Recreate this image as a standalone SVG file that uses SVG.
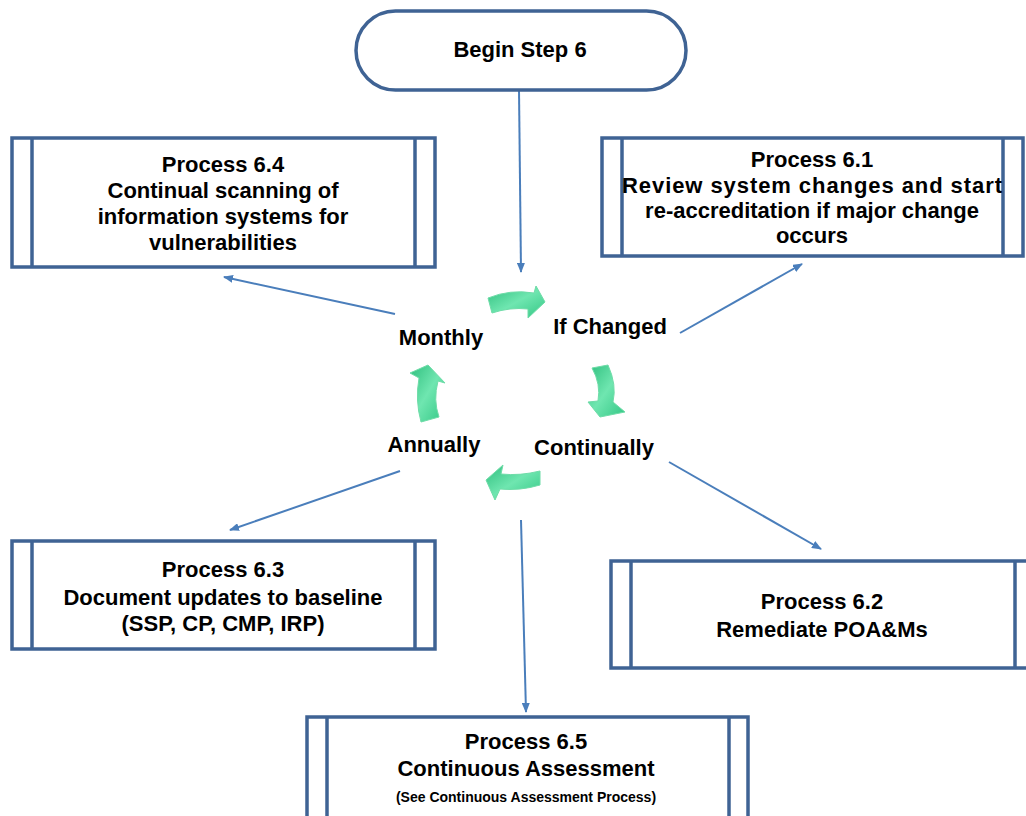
<svg xmlns="http://www.w3.org/2000/svg" width="1026" height="816" viewBox="0 0 1026 816">
<style>
.box{fill:#fff;stroke:#3f6394;stroke-width:3.5}
.bar{fill:none;stroke:#3f6394;stroke-width:3.5}
.t{font-family:"Liberation Sans",Arial,sans-serif;font-weight:bold;font-size:22px;fill:#000;text-anchor:middle}
.s{font-size:14px}
.con{fill:none;stroke:#4a7ebb;stroke-width:2;marker-end:url(#ah)}
.g{fill:url(#gr);stroke:#6fdca8;stroke-width:1}
</style>
<defs>
<marker id="ah" markerWidth="10" markerHeight="8" refX="9" refY="4" orient="auto" markerUnits="userSpaceOnUse">
<path d="M0,0 L10,4 L0,8 Z" fill="#4a7ebb"/>
</marker>
<linearGradient id="gr" x1="0" y1="0" x2="1" y2="1">
<stop offset="0" stop-color="#2fbf7e"/>
<stop offset="0.5" stop-color="#6fe6b0"/>
<stop offset="1" stop-color="#33c785"/>
</linearGradient>
</defs>
<rect width="1026" height="816" fill="#fff"/>
<g id="connectors">
<line class="con" x1="519" y1="90" x2="521" y2="272"/>
<line class="con" x1="395" y1="314" x2="224" y2="277"/>
<line class="con" x1="680" y1="333" x2="802" y2="264"/>
<line class="con" x1="400" y1="471" x2="230" y2="530"/>
<line class="con" x1="669" y1="462" x2="821" y2="549"/>
<line class="con" x1="521" y1="520" x2="526" y2="712"/>
</g>
<g id="cycle-arrows">
<path class="g" d="M488,298 Q510,289 534,293 L536,286 L545,302 L528,318 L528,309 Q510,307 492,313 Z"/>
<path class="g" d="M592,368 L608,365 Q617,385 613,402 L625,412 L600,417 L588,402 L598,401 Q601,384 592,368 Z"/>
<path class="g" d="M540,471 L540,485 Q520,491 500,489 L495,500 L486,480 L503,465 L501,474 Q520,476 540,471 Z"/>
<path class="g" d="M421,422 L439,417 Q433,400 438,381 L445,383 L428,365 L410,373 L419,378 Q415,400 421,422 Z"/>
</g>
<g id="begin">
<rect class="box" x="356" y="11" width="330" height="79" rx="39.5" ry="39.5"/>
<text class="t" x="520" y="57">Begin Step 6</text>
</g>
<g id="p64">
<rect class="box" x="12" y="138" width="423" height="129"/>
<line class="bar" x1="32" y1="138" x2="32" y2="267"/>
<line class="bar" x1="415" y1="138" x2="415" y2="267"/>
<text class="t" x="223" y="172">Process 6.4</text>
<text class="t" x="223" y="198">Continual scanning of</text>
<text class="t" x="223" y="224">information systems for</text>
<text class="t" x="223" y="250">vulnerabilities</text>
</g>
<g id="p61">
<rect class="box" x="602" y="138" width="421" height="118"/>
<line class="bar" x1="622" y1="138" x2="622" y2="256"/>
<line class="bar" x1="1003" y1="138" x2="1003" y2="256"/>
<text class="t" x="812" y="167">Process 6.1</text>
<text class="t" x="812" y="193" textLength="380">Review system changes and start</text>
<text class="t" x="812" y="218">re-accreditation if major change</text>
<text class="t" x="812" y="243">occurs</text>
</g>
<g id="p63">
<rect class="box" x="12" y="541" width="423" height="108"/>
<line class="bar" x1="32" y1="541" x2="32" y2="649"/>
<line class="bar" x1="415" y1="541" x2="415" y2="649"/>
<text class="t" x="223" y="577">Process 6.3</text>
<text class="t" x="223" y="605">Document updates to baseline</text>
<text class="t" x="223" y="631">(SSP, CP, CMP, IRP)</text>
</g>
<g id="p62">
<rect class="box" x="611" y="561" width="425" height="107"/>
<line class="bar" x1="631" y1="561" x2="631" y2="668"/>
<line class="bar" x1="1015" y1="561" x2="1015" y2="668"/>
<text class="t" x="822" y="609">Process 6.2</text>
<text class="t" x="822" y="637">Remediate POA&amp;Ms</text>
</g>
<g id="p65">
<rect class="box" x="307" y="717" width="441" height="110"/>
<line class="bar" x1="327" y1="717" x2="327" y2="816"/>
<line class="bar" x1="729" y1="717" x2="729" y2="816"/>
<text class="t" x="526" y="749">Process 6.5</text>
<text class="t" x="526" y="776">Continuous  Assessment</text>
<text class="t s" x="526" y="802">(See Continuous Assessment Process)</text>
</g>
<g id="labels">
<text class="t" x="441" y="345">Monthly</text>
<text class="t" x="610" y="334">If Changed</text>
<text class="t" x="594" y="455">Continually</text>
<text class="t" x="434" y="452">Annually</text>
</g>
</svg>
